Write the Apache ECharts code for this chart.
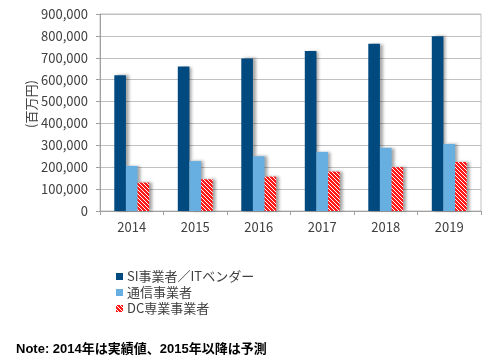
<!DOCTYPE html>
<html><head><meta charset="utf-8">
<script src="https://cdn.jsdelivr.net/npm/echarts@6/dist/echarts.min.js"></script>
<style>html,body{margin:0;padding:0;background:#fff}#c{width:497px;height:360px}</style>
</head><body><div id="c"></div>
<script>
const categories = ['2014','2015','2016','2017','2018','2019'];
const siVendor = [620000, 660000, 697000, 731000, 764000, 798000];
const telecom = [206000, 228000, 250000, 270000, 289000, 306000];
const dcProvider = [130000, 145000, 157000, 180000, 200000, 224000];
const seriesNames = ['SI事業者／ITベンダー','通信事業者','DC専業事業者'];
const yTicks = [0,100000,200000,300000,400000,500000,600000,700000,800000,900000];
const yName = '(百万円)';
const note = 'Note: 2014年は実績値、2015年以降は予測';

// red/white diagonal stripe pattern
const pc = document.createElement('canvas');
pc.width = 4; pc.height = 4;
const ctx = pc.getContext('2d');
ctx.fillStyle = '#ff1a1a'; ctx.fillRect(0,0,4,4);
ctx.fillStyle = '#ffffff';
for (let i=0;i<4;i++){ ctx.fillRect(i,i,1,1); }
const stripe = {image: pc, repeat: 'repeat'};

const shadow = {shadowColor:'rgba(0,0,0,0.35)', shadowBlur:3, shadowOffsetX:3, shadowOffsetY:0};
const font = '"Noto Sans CJK JP","Noto Sans",sans-serif';
const chart = echarts.init(document.getElementById('c'), null, {renderer:'canvas'});
chart.setOption({
  animation:false,
  textStyle:{fontFamily:font},
  grid:{left:100, right:16, top:14, bottom:149, show:true, borderColor:'#c0c0c0', borderWidth:1},
  legend:{
    orient:'vertical', left:111, top:265, itemGap:3, itemWidth:7, itemHeight:7, icon:'rect',
    textStyle:{fontSize:13, color:'#404040', fontFamily:font, padding:[0,0,0,-1]},
    data:seriesNames
  },
  xAxis:{
    type:'category', data:categories,
    axisLine:{lineStyle:{color:'#a0a0a0'}},
    axisTick:{show:true, length:4, lineStyle:{color:'#a0a0a0'}},
    axisLabel:{fontSize:13, color:'#404040', margin:10, fontFamily:font}
  },
  yAxis:{
    type:'value', min:yTicks[0], max:yTicks[yTicks.length-1], interval:yTicks[1]-yTicks[0],
    axisLine:{show:true, lineStyle:{color:'#a0a0a0'}},
    axisTick:{show:true, length:4, lineStyle:{color:'#a0a0a0'}},
    splitLine:{lineStyle:{color:'#c0c0c0'}},
    axisLabel:{fontSize:13, color:'#404040', margin:12, fontFamily:font,
      formatter:v=>v.toLocaleString('en-US')}
  },
  series:[
    {name:seriesNames[0], type:'bar', data:siVendor, barGap:'0%', barCategoryGap:'45%',
      itemStyle:Object.assign({color:'#004a80'}, shadow)},
    {name:seriesNames[1], type:'bar', data:telecom, barGap:'0%', barCategoryGap:'45%',
      itemStyle:Object.assign({color:'#66afe0'}, shadow)},
    {name:seriesNames[2], type:'bar', data:dcProvider, barGap:'0%', barCategoryGap:'45%',
      itemStyle:Object.assign({color:stripe}, shadow)}
  ],
  graphic:[{
    type:'text', x:31, y:104, rotation:Math.PI/2,
    style:{text:yName, font:'13px "Noto Sans CJK JP",sans-serif', fill:'#404040', align:'center', verticalAlign:'middle'}
  },{
    type:'text', left:16, top:343,
    style:{text:note, font:'bold 13px "Liberation Sans","Noto Sans CJK JP",sans-serif', fill:'#000'}
  }]
});
</script></body></html>
